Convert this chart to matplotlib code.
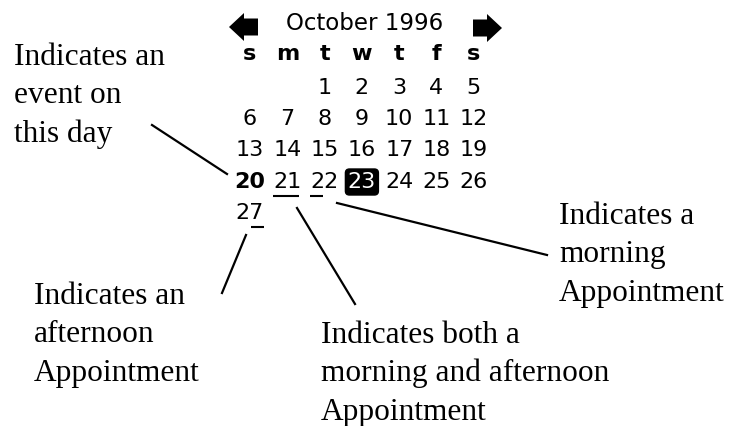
import matplotlib
matplotlib.use("Agg")
import matplotlib.pyplot as plt
from matplotlib.patches import FancyBboxPatch, Polygon

# ---- data ----
month_title = "October 1996"
weekday_labels = ["s", "m", "t", "w", "t", "f", "s"]
first_weekday = 2          # Oct 1, 1996 was a Tuesday (0 = Sunday)
days_shown = 27
event_days = [20]
morning_days = [21, 22]
afternoon_days = [21, 27]
today = 23

annotations = [
    # (text lines, text x, first baseline y, line start, line end)
    (["Indicates an", "event on", "this day"], 14, 65, (152, 125), (227, 174)),
    (["Indicates a", "morning", "Appointment"], 559, 224, (337, 203), (547, 255)),
    (["Indicates an", "afternoon", "Appointment"], 34, 304, (246, 235), (222, 293)),
    (["Indicates both a", "morning and afternoon", "Appointment"], 321, 343, (297, 208), (355, 304)),
]

# ---- layout ----
W, H = 729, 426
fig = plt.figure(figsize=(W / 100, H / 100), dpi=100)
ax = fig.add_axes([0, 0, 1, 1])
ax.set_xlim(0, W)
ax.set_ylim(H, 0)
ax.axis("off")

col0, col_step = 250, 37.3
row_y = [88, 119, 150, 182, 213]
header_y, weekday_y = 23, 54
digit_w = 14.2
cal_font = "DejaVu Sans"

# header
ax.text(365, header_y, month_title, ha="center", va="center",
        fontsize=16.5, family=cal_font)


def arrow(cx, cy, direction):
    # fat pixel arrow, direction -1 = left, +1 = right
    bh, hh, hl, bl = 8.5, 14, 15, 13
    pts = [(-hl - bl / 2, 0), (-bl / 2, -hh), (-bl / 2, -bh), (bl / 2 + 1, -bh),
           (bl / 2 + 1, bh), (-bl / 2, bh), (-bl / 2, hh)]
    pts = [(cx + direction * -x, cy + y) for x, y in pts]
    ax.add_patch(Polygon(pts, closed=True, color="black", lw=0))


arrow(250.5, 27, -1)
arrow(480.5, 28, 1)

# weekday labels
for i, lab in enumerate(weekday_labels):
    ax.text(col0 + i * col_step, weekday_y, lab, ha="center", va="center",
            fontsize=16, fontweight="bold", family=cal_font)

# days
for d in range(1, days_shown + 1):
    idx = first_weekday + d - 1
    r, c = divmod(idx, 7)
    x = col0 + c * col_step
    y = row_y[r]
    color = "black"
    weight = "bold" if d in event_days else "normal"
    if d == today:
        ax.add_patch(FancyBboxPatch((x - 14.5, y - 11), 29, 22,
                                    boxstyle="round,pad=2,rounding_size=4",
                                    fc="black", ec="black"))
        color = "white"
    ax.text(x, y, str(d), ha="center", va="center", fontsize=16,
            fontweight=weight, family=cal_font, color=color)
    uy = y + 14
    if d in morning_days and d in afternoon_days:
        ax.plot([x - digit_w, x + digit_w - 2], [uy, uy], color="black", lw=1.5,
                solid_capstyle="butt")
    elif d in morning_days:
        ax.plot([x - digit_w, x - 2], [uy, uy], color="black", lw=1.5,
                solid_capstyle="butt")
    elif d in afternoon_days:
        ax.plot([x + 1, x + digit_w], [uy, uy], color="black", lw=1.5,
                solid_capstyle="butt")

# annotations
for lines, tx, ty, p0, p1 in annotations:
    for k, ln in enumerate(lines):
        ax.text(tx, ty + k * 38.3, ln, ha="left", va="baseline",
                fontsize=22.6, family="Liberation Serif")
    ax.plot([p0[0], p1[0]], [p0[1], p1[1]], color="black", lw=1.6)

fig.savefig("out.png", dpi=100)
